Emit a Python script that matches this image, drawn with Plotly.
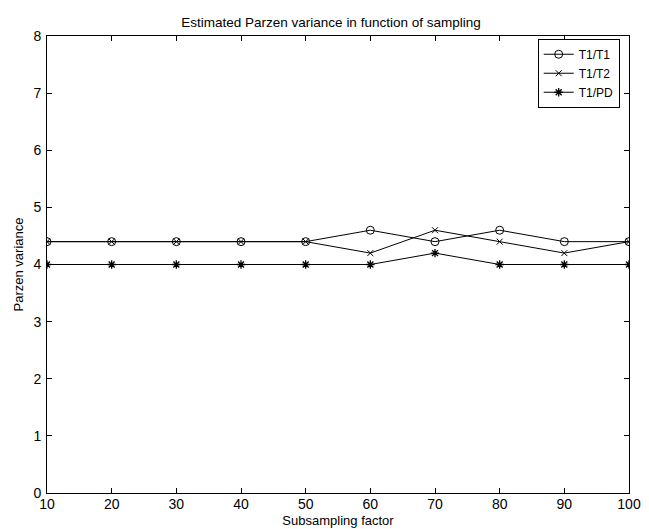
import plotly.graph_objects as go

x_vals = [10, 20, 30, 40, 50, 60, 70, 80, 90, 100]
t1_t1 = [4.4, 4.4, 4.4, 4.4, 4.4, 4.6, 4.4, 4.6, 4.4, 4.4]
t1_t2 = [4.4, 4.4, 4.4, 4.4, 4.4, 4.2, 4.6, 4.4, 4.2, 4.4]
t1_pd = [4.0, 4.0, 4.0, 4.0, 4.0, 4.0, 4.2, 4.0, 4.0, 4.0]
series_names = ["T1/T1", "T1/T2", "T1/PD"]
x_ticks = [10, 20, 30, 40, 50, 60, 70, 80, 90, 100]
y_ticks = [0, 1, 2, 3, 4, 5, 6, 7, 8]

FONT = "Liberation Sans, Arial, sans-serif"
W, H = 641, 521  # page body has an 8px margin

fig = go.Figure()
fig.add_trace(go.Scatter(x=x_vals, y=t1_t1, name=series_names[0], mode="lines+markers",
                         line=dict(color="black", width=1),
                         marker=dict(symbol="circle-open", size=8, color="black", line=dict(width=1))))
fig.add_trace(go.Scatter(x=x_vals, y=t1_t2, name=series_names[1], mode="lines+markers",
                         line=dict(color="black", width=1),
                         marker=dict(symbol="x-thin-open", size=6, color="black", line=dict(width=1))))
fig.add_trace(go.Scatter(x=x_vals, y=t1_pd, name=series_names[2], mode="lines+markers",
                         line=dict(color="black", width=1),
                         marker=dict(symbol="asterisk-open", size=7, color="black", line=dict(width=1.3))))

axis_common = dict(showline=True, linecolor="black", linewidth=1, mirror="allticks",
                   ticks="inside", ticklen=5, tickcolor="black", showgrid=False, zeroline=False,
                   automargin=False,
                   tickfont=dict(family=FONT, size=14, color="black"))

fig.update_layout(
    width=W, height=H,
    margin=dict(l=39, r=20, t=28, b=36),
    paper_bgcolor="white", plot_bgcolor="white",
    title=dict(text="Estimated Parzen variance in function of sampling", x=323 / W, xanchor="center",
               y=1 - 14 / H, yanchor="middle", font=dict(family=FONT, size=13.5, color="black")),
    xaxis=dict(range=[10, 100], tickvals=x_ticks, ticktext=[str(v) for v in x_ticks],
               title=dict(text="Subsampling factor", standoff=5, font=dict(family=FONT, size=13, color="black")),
               ticklabelstandoff=-2, **axis_common),
    yaxis=dict(range=[0, 8], tickvals=y_ticks, ticktext=[str(v) for v in y_ticks],
               title=dict(text="Parzen variance", standoff=6, font=dict(family=FONT, size=13, color="black")),
               ticklabelstandoff=2, **axis_common),
    showlegend=True,
    legend=dict(x=0.984, y=0.994, xanchor="right", yanchor="top", bgcolor="white",
                bordercolor="black", borderwidth=1, font=dict(family=FONT, size=12, color="black"),
                tracegroupgap=0, itemwidth=30),
)

fig.write_html("out.html")
